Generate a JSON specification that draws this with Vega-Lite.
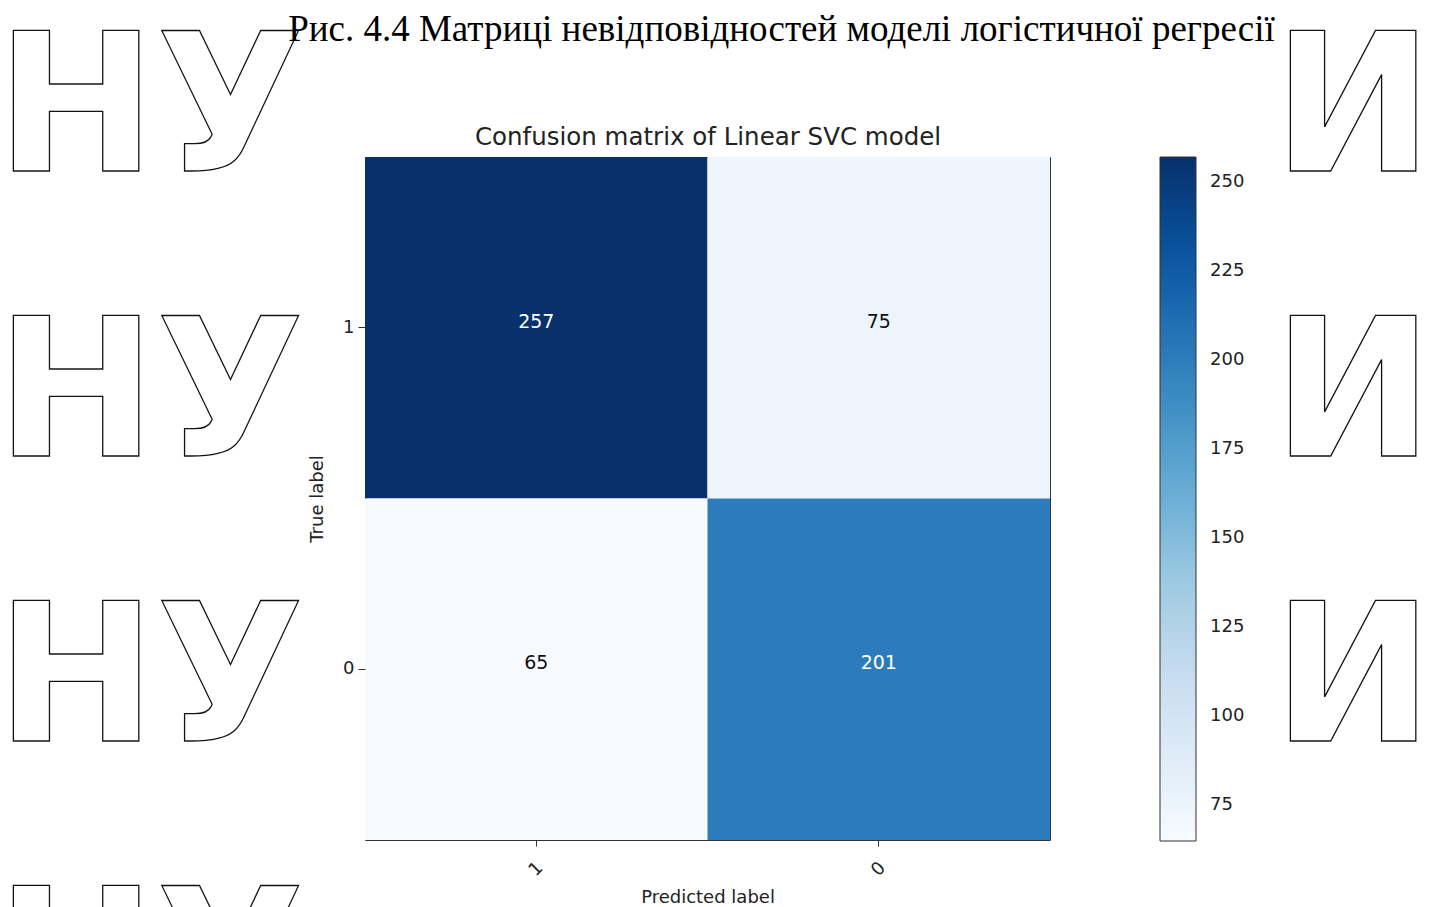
{
  "$schema": "https://vega.github.io/schema/vega-lite/v6.json",
  "width": 685,
  "height": 683,
  "autosize": {"type": "none"},
  "padding": {"left": 365, "top": 157, "right": 395, "bottom": 67},
  "background": "white",
  "config": {
    "font": "DejaVu Sans",
    "view": {"stroke": "#333", "strokeWidth": 1},
    "axis": {
      "labelFont": "DejaVu Sans",
      "titleFont": "DejaVu Sans",
      "labelColor": "#222",
      "titleColor": "#222",
      "tickColor": "#333",
      "labelFontSize": 18,
      "titleFontSize": 18,
      "titleFontWeight": "normal",
      "grid": false,
      "domain": false,
      "tickSize": 7
    }
  },
  "title": {
    "text": "Рис. 4.4 Матриці невідповідностей моделі логістичної регресії",
    "font": "Liberation Serif",
    "fontSize": 37,
    "fontWeight": "normal",
    "color": "#000000",
    "anchor": "middle",
    "frame": "group",
    "dx": 74,
    "offset": -32
  },
  "datasets": {
    "confusion": [
      {"actual": "1", "predicted": "1", "count": 257},
      {"actual": "1", "predicted": "0", "count": 75},
      {"actual": "0", "predicted": "1", "count": 65},
      {"actual": "0", "predicted": "0", "count": 201}
    ],
    "watermark": [
      {"word": "НУ", "side": "left", "line": 1},
      {"word": "НУ", "side": "left", "line": 2},
      {"word": "НУ", "side": "left", "line": 3},
      {"word": "НУ", "side": "left", "line": 4},
      {"word": "И", "side": "right", "line": 1},
      {"word": "И", "side": "right", "line": 2},
      {"word": "И", "side": "right", "line": 3}
    ]
  },
  "resolve": {"scale": {"x": "independent", "y": "independent"}},
  "layer": [
    {
      "data": {"name": "watermark"},
      "mark": {
        "type": "text",
        "font": "DejaVu Sans",
        "fontWeight": "bold",
        "fontSize": 192,
        "fillOpacity": 0,
        "stroke": "#111111",
        "strokeWidth": 1.3,
        "align": "center",
        "baseline": "alphabetic"
      },
      "encoding": {
        "x": {
          "field": "side",
          "type": "nominal",
          "scale": {"type": "point", "domain": ["left", "right"], "range": [-215, 988], "padding": 0},
          "axis": null
        },
        "y": {
          "field": "line",
          "type": "quantitative",
          "scale": {"domain": [1, 4], "range": [14, 869]},
          "axis": null
        },
        "text": {"field": "word"}
      }
    },
    {
      "data": {"name": "confusion"},
      "layer": [
        {
          "mark": {"type": "rect"},
          "encoding": {
            "x": {
              "field": "predicted",
              "type": "nominal",
              "sort": ["1", "0"],
              "title": "Predicted label",
              "axis": {
                "orient": "bottom",
                "labelAngle": -45,
                "labelAlign": "center",
                "labelBaseline": "middle",
                "tickSize": 6,
                "labelPadding": 23,
                "titlePadding": 9
              }
            },
            "y": {
              "field": "actual",
              "type": "nominal",
              "sort": ["1", "0"],
              "title": "True label",
              "axis": {"orient": "left", "labelAngle": 0, "labelPadding": 4, "titlePadding": 16}
            },
            "color": {
              "field": "count",
              "type": "quantitative",
              "scale": {
                "domain": [65, 257],
                "range": ["#f7fbff", "#deebf7", "#c6dbef", "#9ecae1", "#6baed6", "#4292c6", "#2171b5", "#08519c", "#08306b"],
                "interpolate": "rgb"
              },
              "legend": {
                "title": null,
                "orient": "right",
                "direction": "vertical",
                "offset": 110,
                "padding": 0,
                "values": [75, 100, 125, 150, 175, 200, 225, 250],
                "gradientLength": 684,
                "gradientThickness": 36,
                "gradientStrokeColor": "#333",
                "gradientStrokeWidth": 1,
                "labelFont": "DejaVu Sans",
                "labelFontSize": 18,
                "labelColor": "#222",
                "labelOffset": 14,
                "labelOverlap": false
              }
            }
          }
        },
        {
          "mark": {"type": "text", "font": "DejaVu Sans", "fontSize": 19, "dy": -6},
          "encoding": {
            "x": {
              "field": "predicted",
              "type": "nominal",
              "sort": ["1", "0"],
              "title": "Confusion matrix of Linear SVC model",
              "axis": {
                "orient": "top",
                "labels": false,
                "ticks": false,
                "domain": false,
                "titleFontSize": 24.5,
                "titlePadding": 8
              }
            },
            "y": {"field": "actual", "type": "nominal", "sort": ["1", "0"]},
            "text": {"field": "count", "type": "quantitative"},
            "color": {
              "condition": {"test": "datum.count > 128.5", "value": "#ffffff"},
              "value": "#111111"
            }
          }
        }
      ]
    }
  ]
}
